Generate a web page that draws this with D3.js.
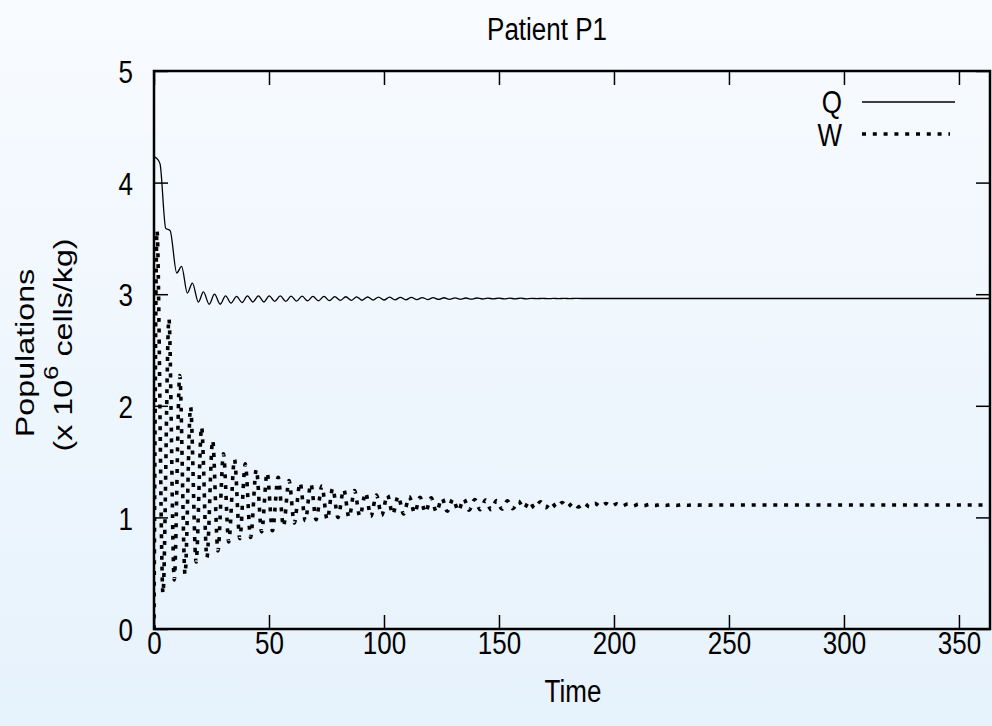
<!DOCTYPE html>
<html>
<head>
<meta charset="utf-8">
<script src="https://cdn.jsdelivr.net/npm/d3@7"></script>
<style>
html,body{margin:0;padding:0;}
body{width:992px;height:726px;overflow:hidden;}
text{font-family:"Liberation Sans",Arial,Helvetica,sans-serif;fill:#000;}
</style>
</head>
<body>
<svg id="chart" width="992" height="726"></svg>
<script>
const chartTitle = "Patient P1";
const xLabel = "Time";
const xTicks = [0, 50, 100, 150, 200, 250, 300, 350];
const yTicks = [0, 1, 2, 3, 4, 5];
const seriesNames = ["Q", "W"];

const qTime = [0, 1.0, 2.6, 5.1, 7.0, 9.9, 12.0, 14.5, 16.7, 19.3, 21.5, 24.0, 26.3, 28.8, 31.1, 33.5, 35.9, 38.3, 40.6, 43.0, 45.4, 47.8, 50.1, 52.5, 54.9, 57.3, 59.6, 62.0, 64.4, 66.8, 69.1, 71.5, 73.9, 76.3, 78.6, 81.0, 83.4, 85.8, 88.1, 90.5, 92.9, 95.3, 97.6, 100.0, 102.4, 104.8, 107.1, 109.5, 111.9, 114.3, 116.6, 119.0, 121.4, 123.8, 126.1, 128.5, 130.9, 133.3, 135.6, 138.0, 140.4, 142.8, 145.1, 147.5, 149.9, 152.3, 154.6, 157.0, 159.4, 161.8, 164.1, 166.5, 168.9, 171.3, 173.6, 176.0, 178.4, 180.8, 183.1, 185.5, 200, 365];
const qValue = [4.23, 4.22, 4.17, 3.59, 3.57, 3.19, 3.25, 3.01, 3.10, 2.93, 3.02, 2.91, 3.00, 2.91, 2.985, 2.92, 2.98, 2.925, 2.985, 2.93, 2.985, 2.93, 2.985, 2.935, 2.985, 2.935, 2.982, 2.938, 2.982, 2.94, 2.98, 2.94, 2.98, 2.942, 2.978, 2.944, 2.977, 2.945, 2.976, 2.946, 2.975, 2.947, 2.974, 2.948, 2.973, 2.949, 2.972, 2.95, 2.971, 2.951, 2.970, 2.952, 2.969, 2.953, 2.968, 2.954, 2.967, 2.955, 2.966, 2.956, 2.966, 2.957, 2.965, 2.958, 2.965, 2.958, 2.964, 2.959, 2.964, 2.959, 2.963, 2.960, 2.963, 2.960, 2.962, 2.961, 2.962, 2.961, 2.962, 2.9615, 2.9615, 2.9615];

const wTime = [0, 1.3, 3.9, 6.5, 8.8, 11.2, 13.5, 15.9, 18.3, 20.7, 23.0, 25.5, 27.8, 30.2, 32.5, 35.0, 37.3, 39.7, 42.0, 44.5, 46.8, 49.2, 51.5, 54.0, 56.3, 58.7, 61.0, 63.5, 65.8, 68.2, 70.5, 73.0, 75.3, 77.7, 80.0, 82.5, 84.8, 87.2, 89.5, 92.0, 94.3, 96.7, 99.0, 101.5, 103.8, 106.2, 108.5, 111.0, 113.3, 115.7, 118.0, 120.5, 122.8, 125.2, 127.5, 130.0, 132.3, 134.7, 137.0, 139.5, 141.8, 144.2, 146.5, 149.0, 151.3, 153.7, 156.0, 158.5, 160.8, 163.2, 165.5, 168.0, 170.3, 172.7, 175.0, 177.5, 179.8, 182.2, 184.5, 187.0, 189.3, 191.7, 194.0, 196.5, 198.8, 201.2, 203.5, 206.0, 208.3, 210.7, 213.0, 215.5, 217.8, 220.2, 222.5, 225.0, 227.3, 229.7, 232.0, 234.5, 236.8, 239.2, 241.5, 244.0, 300, 365];
const wValue = [0.0, 3.57, 0.32, 2.78, 0.44, 2.27, 0.49, 1.99, 0.60, 1.81, 0.64, 1.69, 0.70, 1.57, 0.78, 1.52, 0.81, 1.48, 0.82, 1.43, 0.87, 1.40, 0.88, 1.36, 0.92, 1.33, 0.95, 1.31, 0.97, 1.30, 0.98, 1.28, 0.98, 1.26, 1.00, 1.25, 1.00, 1.24, 1.01, 1.22, 1.01, 1.20, 1.02, 1.20, 1.03, 1.19, 1.03, 1.185, 1.04, 1.18, 1.045, 1.175, 1.05, 1.17, 1.055, 1.165, 1.06, 1.165, 1.065, 1.16, 1.07, 1.155, 1.07, 1.15, 1.075, 1.148, 1.078, 1.145, 1.08, 1.142, 1.083, 1.14, 1.086, 1.137, 1.089, 1.134, 1.092, 1.131, 1.094, 1.128, 1.096, 1.126, 1.098, 1.124, 1.100, 1.122, 1.102, 1.120, 1.103, 1.118, 1.105, 1.117, 1.106, 1.116, 1.107, 1.115, 1.108, 1.114, 1.109, 1.113, 1.110, 1.112, 1.110, 1.111, 1.111, 1.111];

const CW = 992, CH = 726;
const svg = d3.select("#chart");
const defs = svg.append("defs");
const grad = defs.append("linearGradient").attr("id", "bg").attr("x1", 0).attr("y1", 0).attr("x2", 0).attr("y2", 1);
grad.append("stop").attr("offset", "0%").attr("stop-color", "#f8fbff");
grad.append("stop").attr("offset", "100%").attr("stop-color", "#e6f2fc");
svg.append("rect").attr("width", CW).attr("height", CH).attr("fill", "url(#bg)");

const mLeft = 154, mRight = 990, mTop = 71, mBottom = 629;
const x = d3.scaleLinear().domain([0, 363.5]).range([mLeft, mRight]);
const y = d3.scaleLinear().domain([0, 5]).range([mBottom, mTop]);

const clip = defs.append("clipPath").attr("id", "clip");
clip.append("rect").attr("x", mLeft).attr("y", mTop).attr("width", mRight - mLeft).attr("height", mBottom - mTop);

const fontSize = 26;
const SY = 1.24;   // glyphs in the reference are taller than wide
const tickLen = 14;

const axB = d3.axisBottom(x).tickValues(xTicks).tickSize(-tickLen).tickFormat(d3.format("d"));
const gB = svg.append("g").attr("transform", `translate(0,${mBottom})`).call(axB);
gB.selectAll("text").attr("x", 0).attr("y", 0).attr("dy", "0.36em").attr("transform", `translate(0,13) scale(1,${SY})`);
const axT = d3.axisTop(x).tickValues(xTicks).tickSize(-tickLen).tickFormat("");
const gT = svg.append("g").attr("transform", `translate(0,${mTop})`).call(axT);
const axL = d3.axisLeft(y).tickValues(yTicks).tickSize(-tickLen).tickFormat(d3.format("d"));
const gL = svg.append("g").attr("transform", `translate(${mLeft},0)`).call(axL);
gL.selectAll("text").attr("x", 0).attr("y", 0).attr("dy", "0.36em").attr("transform", `translate(-21,0) scale(1,${SY})`);
const axR = d3.axisRight(y).tickValues(yTicks).tickSize(-tickLen).tickFormat("");
const gR = svg.append("g").attr("transform", `translate(${mRight},0)`).call(axR);

[gB, gT, gL, gR].forEach(g => {
  g.select(".domain").remove();
  g.selectAll("line").attr("stroke", "#000").attr("stroke-width", 1.5);
  g.selectAll("text").attr("font-size", fontSize).attr("font-family", '"Liberation Sans",Arial,sans-serif').attr("fill", "#000");
});

svg.append("rect").attr("x", mLeft).attr("y", mTop).attr("width", mRight - mLeft).attr("height", mBottom - mTop)
  .attr("fill", "none").attr("stroke", "#000").attr("stroke-width", 2.5);

const qData = qTime.map((t, i) => [t, qValue[i]]);
const wData = wTime.map((t, i) => [t, wValue[i]]);
const line = d3.line().x(d => x(d[0])).y(d => y(d[1])).curve(d3.curveMonotoneX);

const plot = svg.append("g").attr("clip-path", "url(#clip)");
plot.append("path").datum(qData).attr("d", line).attr("fill", "none").attr("stroke", "#000").attr("stroke-width", 1.3);
plot.append("path").datum(wData).attr("d", line).attr("fill", "none").attr("stroke", "#000").attr("stroke-width", 3.6)
  .attr("stroke-dasharray", "4,6.8");

function label(txt, cx, cy, anchor) {
  return svg.append("text").attr("x", 0).attr("y", 0).attr("dy", "0.36em")
    .attr("text-anchor", anchor).attr("font-size", fontSize)
    .attr("transform", `translate(${cx},${cy}) scale(1,${SY})`).text(txt);
}

label(seriesNames[0], 842, 101, "end");
svg.append("line").attr("x1", 862).attr("x2", 955).attr("y1", 102).attr("y2", 102).attr("stroke", "#000").attr("stroke-width", 1.3);
label(seriesNames[1], 842, 134, "end");
svg.append("line").attr("x1", 862).attr("x2", 950).attr("y1", 134).attr("y2", 134).attr("stroke", "#000").attr("stroke-width", 3.6).attr("stroke-dasharray", "4,6.8");

label(chartTitle, 547, 28, "middle");
label(xLabel, 573, 690, "middle");

const yl = svg.append("text").attr("transform", `translate(0,353) rotate(-90) scale(${SY},1)`).attr("text-anchor", "middle").attr("font-size", fontSize);
yl.append("tspan").attr("x", 0).attr("y", 34).text("Populations");
const yl2 = svg.append("text").attr("transform", `translate(0,345) rotate(-90) scale(${SY},1)`).attr("text-anchor", "middle").attr("font-size", fontSize);
yl2.append("tspan").attr("x", 0).attr("y", 72).text("(x 10");
yl2.append("tspan").attr("dy", -14).attr("font-size", fontSize * 0.8).text("6");
yl2.append("tspan").attr("dy", 14).text(" cells/kg)");
</script>
</body>
</html>
